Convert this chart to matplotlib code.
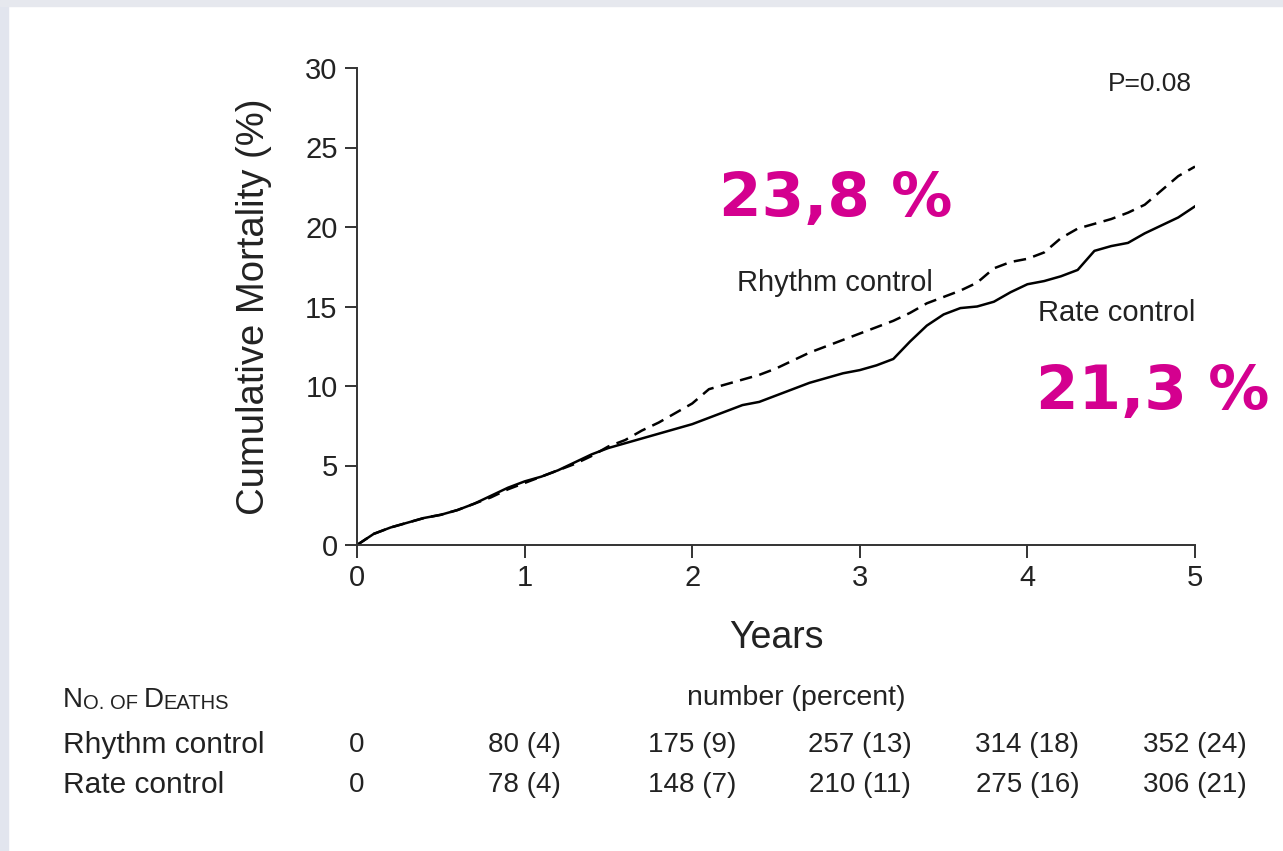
import matplotlib.pyplot as plt
from matplotlib.patches import Rectangle

years = [0.0, 0.1, 0.2, 0.3, 0.4, 0.5, 0.6, 0.7, 0.8, 0.9,
         1.0, 1.1, 1.2, 1.3, 1.4, 1.5, 1.6, 1.7, 1.8, 1.9,
         2.0, 2.1, 2.2, 2.3, 2.4, 2.5, 2.6, 2.7, 2.8, 2.9,
         3.0, 3.1, 3.2, 3.3, 3.4, 3.5, 3.6, 3.7, 3.8, 3.9,
         4.0, 4.1, 4.2, 4.3, 4.4, 4.5, 4.6, 4.7, 4.8, 4.9, 5.0]
rhythm = [0.0, 0.7, 1.1, 1.4, 1.7, 1.9, 2.2, 2.6, 3.0, 3.5,
          3.9, 4.3, 4.7, 5.1, 5.6, 6.2, 6.6, 7.2, 7.7, 8.3,
          8.9, 9.8, 10.1, 10.4, 10.7, 11.1, 11.6, 12.1, 12.5, 12.9,
          13.3, 13.7, 14.1, 14.6, 15.2, 15.6, 16.0, 16.5, 17.4, 17.8,
          18.0, 18.4, 19.3, 19.9, 20.2, 20.5, 20.9, 21.4, 22.3, 23.2, 23.8]
rate = [0.0, 0.7, 1.1, 1.4, 1.7, 1.9, 2.2, 2.6, 3.1, 3.6,
        4.0, 4.3, 4.7, 5.2, 5.7, 6.1, 6.4, 6.7, 7.0, 7.3,
        7.6, 8.0, 8.4, 8.8, 9.0, 9.4, 9.8, 10.2, 10.5, 10.8,
        11.0, 11.3, 11.7, 12.8, 13.8, 14.5, 14.9, 15.0, 15.3, 15.9,
        16.4, 16.6, 16.9, 17.3, 18.5, 18.8, 19.0, 19.6, 20.1, 20.6, 21.3]

# deaths table under the plot
table_years = [0, 1, 2, 3, 4, 5]
rhythm_deaths = ["0", "80 (4)", "175 (9)", "257 (13)", "314 (18)", "352 (24)"]
rate_deaths = ["0", "78 (4)", "148 (7)", "210 (11)", "275 (16)", "306 (21)"]

final_rhythm = "23,8 %"
final_rate = "21,3 %"

plt.rcParams['font.family'] = ['Liberation Sans', 'DejaVu Sans']
txt = '#222222'
magenta = '#d4008f'

fig = plt.figure(figsize=(12.83, 8.51), dpi=100)
fig.patch.set_facecolor('white')
# grey frame of the slide around the white panel
fig.add_artist(Rectangle((0, 0), 8 / 1283, 1, transform=fig.transFigure,
                         color='#e2e5ee', zorder=0))
fig.add_artist(Rectangle((0, 1 - 6 / 851), 1, 6 / 851, transform=fig.transFigure,
                         color='#e6e8ee', zorder=0))

ax = fig.add_axes([357 / 1283, 1 - 545 / 851, (1195 - 357) / 1283, (545 - 68) / 851])
ax.plot(years, rhythm, color='black', lw=1.8, ls=(0, (5, 3)))
ax.plot(years, rate, color='black', lw=1.8)

ax.set_xlim(0, 5)
ax.set_ylim(0, 30)
ax.set_xticks(range(6))
ax.set_yticks(range(0, 31, 5))
for s in ['top', 'right']:
    ax.spines[s].set_visible(False)
for s in ['left', 'bottom']:
    ax.spines[s].set_color('#333333')
    ax.spines[s].set_linewidth(1.4)
ax.tick_params(axis='both', length=9, width=1.4, color='#333333',
               labelsize=21, labelcolor=txt)
ax.tick_params(axis='x', pad=5)
ax.tick_params(axis='y', pad=5)
ax.set_xlabel("Years", fontsize=27, color=txt, labelpad=20)
ax.set_ylabel("Cumulative Mortality (%)", fontsize=27.5, color=txt, labelpad=24)

ax.text(4.98, 29.0, "P=0.08", ha='right', va='center', fontsize=19, color=txt)
ax.text(2.27, 16.5, "Rhythm control", ha='left', va='center', fontsize=21, color=txt)
ax.text(5, 14.6, "Rate control", ha='right', va='center', fontsize=21, color=txt)
ax.text(2.16, 21.7, final_rhythm, ha='left', va='center', fontsize=44,
        fontweight='bold', color=magenta, family='DejaVu Sans')
ax.text(4.05, 9.6, final_rate, ha='left', va='center', fontsize=44,
        fontweight='bold', color=magenta, family='DejaVu Sans')

# table below the plot
fy = lambda p: 1 - p / 851
t = fig.text(63 / 1283, fy(707), "N", fontsize=20, color=txt, va='baseline')
for piece, size in [("O. OF ", 14.5), ("D", 20), ("EATHS", 14.5)]:
    t = ax.annotate(piece, xy=(1, 0), xycoords=t, fontsize=size, color=txt,
                    va='bottom', ha='left', annotation_clip=False)
fig.text(796 / 1283, fy(698), "number (percent)", ha='center', va='center',
         fontsize=20.5, color=txt)
fig.text(63 / 1283, fy(745), "Rhythm control", ha='left', va='center', fontsize=21.5, color=txt)
fig.text(63 / 1283, fy(785), "Rate control", ha='left', va='center', fontsize=21.5, color=txt)
for yr, a, b in zip(table_years, rhythm_deaths, rate_deaths):
    xf = fig.transFigure.inverted().transform(ax.transData.transform((yr, 0)))[0]
    fig.text(xf, fy(745), a, ha='center', va='center', fontsize=20, color=txt)
    fig.text(xf, fy(785), b, ha='center', va='center', fontsize=20, color=txt)

fig.savefig("out.png", dpi=100)
